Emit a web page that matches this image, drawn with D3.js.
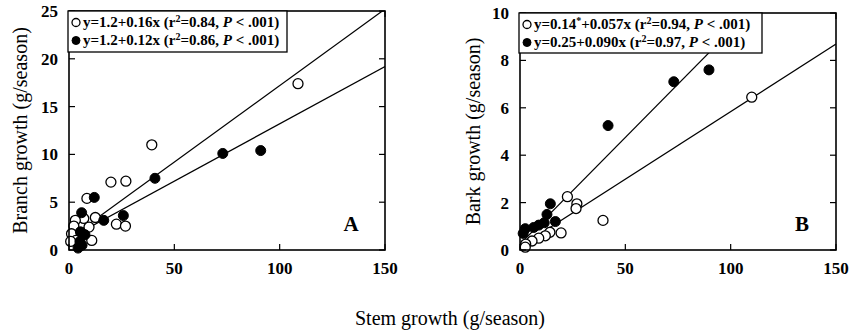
<!DOCTYPE html>
<html>
<head>
  <meta charset="utf-8">
  <title>Branch and bark growth vs stem growth</title>
  <script src="https://d3js.org/d3.v7.min.js"></script>
  <style>
    body { margin: 0; background: white; }
    svg { font-family: "Liberation Serif", "Times New Roman", serif; }
    .frame { fill: none; stroke: black; stroke-width: 1.6px; }
    .tick-label { font-size: 17px; font-weight: bold; }
    .axis-title { font-size: 20px; }
    .fit { stroke: black; stroke-width: 1.2px; fill: none; }
    .open { fill: white; stroke: black; stroke-width: 1.3px; }
    .filled { fill: black; stroke: black; stroke-width: 1px; }
    .legend-box { fill: white; stroke: black; stroke-width: 1.3px; }
    .legend-text { font-size: 15px; font-weight: bold; }
    .panel-tag { font-size: 21px; font-weight: bold; }
  </style>
</head>
<body>
  <svg></svg>
  <script>
    // stem growth (x) and branch growth (y), panel A
    var branchOpenX = [108.7, 39.3, 19.9, 27, 8.5, 12.5, 7.0, 3.0, 9.5, 22.5, 26.8, 2.3, 1.2, 3.3, 10.8, 0.8];
    var branchOpenY = [17.4, 11.0, 7.1, 7.2, 5.4, 3.4, 3.3, 3.1, 2.4, 2.7, 2.5, 2.5, 1.7, 1.0, 1.0, 0.9];
    var branchFilledX = [91, 73, 40.8, 12, 16.5, 25.8, 6.0, 5.4, 7.6, 5.2, 4.3, 6.2];
    var branchFilledY = [10.4, 10.1, 7.5, 5.5, 3.1, 3.6, 3.9, 1.9, 1.6, 0.9, 0.2, 0.5];

    // stem growth (x) and bark growth (y), panel B
    var barkOpenX = [110, 22.5, 27, 26.6, 39.4, 19.5, 14.2, 12, 8.9, 5.7, 2.7, 2.5];
    var barkOpenY = [6.45, 2.25, 1.95, 1.75, 1.25, 0.72, 0.75, 0.6, 0.5, 0.38, 0.25, 0.12];
    var barkFilledX = [89.7, 73, 41.8, 14.4, 12.8, 16.8, 11.5, 8.9, 6.5, 2.5, 1.5];
    var barkFilledY = [7.6, 7.1, 5.25, 1.95, 1.5, 1.2, 1.15, 1.05, 0.95, 0.9, 0.7];

    // fitted lines: [intercept, slope]
    var branchOpenFit = [1.2, 0.16], branchFilledFit = [1.2, 0.12];
    var barkOpenFit = [0.14, 0.057], barkFilledFit = [0.25, 0.090];

    var xTicks = [0, 50, 100, 150];
    var branchTicks = [0, 5, 10, 15, 20, 25];
    var barkTicks = [0, 2, 4, 6, 8, 10];

    var svgWidth = 852, svgHeight = 333;

    var svg = d3.select("svg")
      .attr("width", svgWidth)
      .attr("height", svgHeight);

    var panels = [
      {
        left: 69, top: 11, right: 385, bottom: 250,
        yMax: 25, yTicks: branchTicks, title: "Branch growth (g/season)", titleX: 20,
        tag: "A", openX: branchOpenX, openY: branchOpenY,
        filledX: branchFilledX, filledY: branchFilledY,
        openFit: branchOpenFit, filledFit: branchFilledFit,
        legendW: 219, legendH: 41,
        legend: [["1.2", "", "0.16", "0.84"], ["1.2", "", "0.12", "0.86"]]
      },
      {
        left: 520, top: 13, right: 836, bottom: 250,
        yMax: 10, yTicks: barkTicks, title: "Bark growth (g/season)", titleX: 473,
        tag: "B", openX: barkOpenX, openY: barkOpenY,
        filledX: barkFilledX, filledY: barkFilledY,
        openFit: barkOpenFit, filledFit: barkFilledFit,
        legendW: 243, legendH: 40,
        legend: [["0.14", "*", "0.057", "0.94"], ["0.25", "", "0.090", "0.97"]]
      }
    ];

    panels.forEach(function (p, i) { drawPanel(p, i); });

    svg.append("text")
      .classed("axis-title", true)
      .attr("x", 450)
      .attr("y", 325)
      .attr("text-anchor", "middle")
      .text("Stem growth (g/season)");

    function drawPanel(p, i) {
      var x = d3.scaleLinear().domain([0, 150]).range([p.left, p.right]);
      var y = d3.scaleLinear().domain([0, p.yMax]).range([p.bottom, p.top]);
      var g = svg.append("g").classed("panel", true);
      var tickLen = 6;

      g.append("clipPath")
        .attr("id", "clip" + i)
        .append("rect")
        .attr("x", p.left).attr("y", p.top)
        .attr("width", p.right - p.left).attr("height", p.bottom - p.top);

      // regression lines under the markers
      var lines = g.append("g").attr("clip-path", "url(#clip" + i + ")");
      [p.openFit, p.filledFit].forEach(function (f) {
        lines.append("line")
          .classed("fit", true)
          .attr("x1", x(0)).attr("y1", y(f[0]))
          .attr("x2", x(150)).attr("y2", y(f[0] + f[1] * 150));
      });

      var openPts = d3.zip(p.openX, p.openY);
      var filledPts = d3.zip(p.filledX, p.filledY);

      g.append("g").selectAll("circle")
        .data(openPts)
        .enter().append("circle")
        .classed("open", true)
        .attr("cx", function (d) { return x(d[0]); })
        .attr("cy", function (d) { return y(d[1]); })
        .attr("r", 5);

      g.append("g").selectAll("circle")
        .data(filledPts)
        .enter().append("circle")
        .classed("filled", true)
        .attr("cx", function (d) { return x(d[0]); })
        .attr("cy", function (d) { return y(d[1]); })
        .attr("r", 5);

      // inward ticks on all four sides
      var ticks = g.append("g").attr("stroke", "black").attr("stroke-width", 1.2);
      p.yTicks.forEach(function (t) {
        ticks.append("line").attr("x1", p.left).attr("x2", p.left + tickLen)
          .attr("y1", y(t)).attr("y2", y(t));
        ticks.append("line").attr("x1", p.right).attr("x2", p.right - tickLen)
          .attr("y1", y(t)).attr("y2", y(t));
      });
      xTicks.forEach(function (t) {
        ticks.append("line").attr("x1", x(t)).attr("x2", x(t))
          .attr("y1", p.bottom).attr("y2", p.bottom - tickLen);
        ticks.append("line").attr("x1", x(t)).attr("x2", x(t))
          .attr("y1", p.top).attr("y2", p.top + tickLen);
      });

      g.append("rect")
        .classed("frame", true)
        .attr("x", p.left).attr("y", p.top)
        .attr("width", p.right - p.left).attr("height", p.bottom - p.top);

      g.selectAll(".ylab")
        .data(p.yTicks)
        .enter().append("text")
        .classed("tick-label", true)
        .attr("x", p.left - 11)
        .attr("y", function (d) { return y(d) + 6; })
        .attr("text-anchor", "end")
        .text(function (d) { return d; });

      g.selectAll(".xlab")
        .data(xTicks)
        .enter().append("text")
        .classed("tick-label", true)
        .attr("x", function (d) { return x(d); })
        .attr("y", p.bottom + 24)
        .attr("text-anchor", "middle")
        .text(function (d) { return d; });

      g.append("text")
        .classed("axis-title", true)
        .attr("transform", "translate(" + [p.titleX, (p.top + p.bottom) / 2] + ") rotate(-90)")
        .attr("text-anchor", "middle")
        .attr("dy", "0.35em")
        .text(p.title);

      g.append("text")
        .classed("panel-tag", true)
        .attr("x", p.right - 34)
        .attr("y", p.bottom - 19)
        .attr("text-anchor", "middle")
        .text(p.tag);

      drawLegend(g, p);
    }

    function drawLegend(g, p) {
      var lg = g.append("g")
        .attr("transform", "translate(" + [p.left - 1, p.top] + ")");

      lg.append("rect")
        .classed("legend-box", true)
        .attr("width", p.legendW)
        .attr("height", p.legendH);

      p.legend.forEach(function (row, k) {
        var by = 16 + k * 18;
        lg.append("circle")
          .classed(k === 0 ? "open" : "filled", true)
          .attr("cx", 8).attr("cy", by - 4.5).attr("r", 4);

        var t = lg.append("text")
          .classed("legend-text", true)
          .attr("x", 15)
          .attr("y", by);
        t.append("tspan").text("y=" + row[0]);
        if (row[1]) {
          t.append("tspan").attr("dy", -5).attr("font-size", "10px").text(row[1]);
          t.append("tspan").attr("dy", 5).text("+" + row[2] + "x (r");
        } else {
          t.append("tspan").text("+" + row[2] + "x (r");
        }
        t.append("tspan").attr("dy", -5).attr("font-size", "10px").text("2");
        t.append("tspan").attr("dy", 5).text("=" + row[3] + ", ");
        t.append("tspan").attr("font-style", "italic").text("P");
        t.append("tspan").text(" < .001)");
      });
    }
  </script>
</body>
</html>
